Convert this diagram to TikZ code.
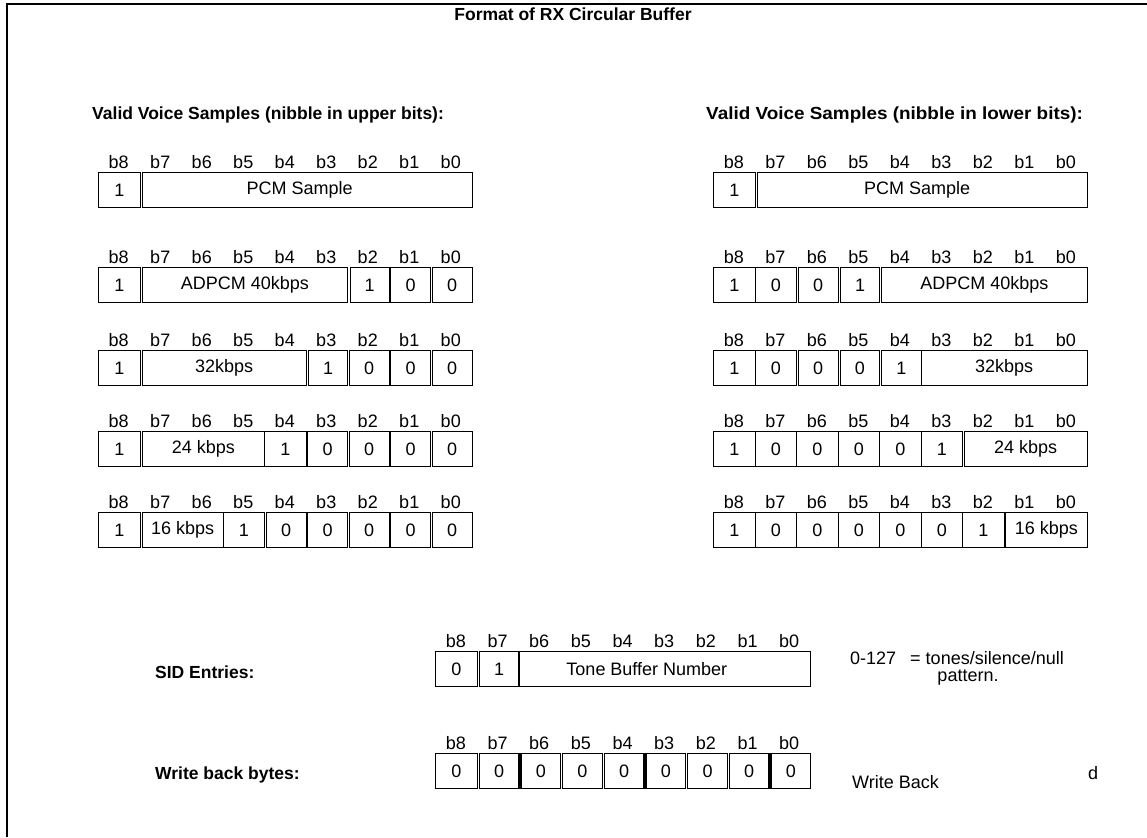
\documentclass[tikz,border=0pt]{standalone}
\usepackage{fontspec}
\usepackage{graphicx}
\setmainfont{Liberation Sans}
\newcommand{\regrow}[5]{% #1 prefix, #2 x0, #3 cell width, #4 top y, #5 fields s/e/g/t
  \foreach \s/\e/\g/\t [count=\i] in {#5} {%
    \pgfmathsetmacro\fldw{(\e-\s)*#3-\g}%
    \pgfmathsetmacro\fldx{#2+\s*#3+\g}%
    \node[cell, minimum width=\fldw pt] (#1-\i) at (\fldx, #4) {\t};
  }%
  \foreach \b [count=\k from 0] in {b8,b7,b6,b5,b4,b3,b2,b1,b0} {%
    \pgfmathsetmacro\lblx{#2+(\k+0.5)*#3}%
    \node[bitlbl] (#1-\b) at (\lblx, #4-3) {\b};
  }%
}
\begin{document}
\begin{tikzpicture}[x=1pt,y=-1pt,
  cell/.style={draw, line width=1.3pt, minimum height=35pt, inner sep=0pt,
    anchor=north west, font=\fontsize{18}{20}\selectfont},
  bitlbl/.style={inner sep=0pt, anchor=south, font=\fontsize{18}{20}\selectfont},
  head/.style={inner sep=0pt, anchor=west, font=\bfseries\fontsize{17.5}{20}\selectfont},
  note/.style={inner sep=0pt, anchor=west, font=\fontsize{18}{20}\selectfont},
  frame/.style={line width=2pt}]
\useasboundingbox (0,0) rectangle (1147,837);
\coordinate (fbl) at (7,837);
\coordinate (ftl) at (7,4);
\coordinate (ftr) at (1147,4);
\draw[frame] (fbl) -- (ftl) -- (ftr);
\node[inner sep=0pt, font=\bfseries\fontsize{17.5}{20}\selectfont] (title) at (573,14) {Format of RX Circular Buffer};
\node[head] (hl) at (92,115) {Valid Voice Samples (nibble in upper bits):};
\node[head] (hr) at (706,115) {\scalebox{1.08}[1]{Valid Voice Samples (nibble in lower bits):}};
% left registers
\regrow{La}{98}{41.5}{172}{0/1/0/1, 1/9/2/PCM Sample\hspace*{15pt}}
\regrow{Lb}{98}{41.5}{267}{0/1/0/1, 1/6/2/ADPCM 40kbps, 6/7/2.5/1, 7/8/1.5/0, 8/9/1.5/0}
\regrow{Lc}{98}{41.5}{350}{0/1/0/1, 1/5/2/32kbps, 5/6/2.5/1, 6/7/1.5/0, 7/8/1.5/0, 8/9/1.5/0}
\regrow{Ld}{98}{41.5}{431}{0/1/0/1, 1/4/2/24 kbps, 4/5/0/1, 5/6/1.5/0, 6/7/1.5/0, 7/8/1.5/0, 8/9/1.5/0}
\regrow{Le}{98}{41.5}{512}{0/1/0/1, 1/3/2/16 kbps, 3/4/0/1, 4/5/1.5/0, 5/6/1.5/0, 6/7/1.5/0, 7/8/1.5/0, 8/9/1.5/0}
% right registers
\regrow{Ra}{713}{41.5}{172}{0/1/0/1, 1/9/2/PCM Sample\hspace*{10pt}}
\regrow{Rb}{713}{41.5}{267}{0/1/0/1, 1/2/0/0, 2/3/1.5/0, 3/4/2.5/1, 4/9/2/ADPCM 40kbps}
\regrow{Rc}{713}{41.5}{350}{0/1/0/1, 1/2/0/0, 2/3/1.5/0, 3/4/2/0, 4/5/2/1, 5/9/0/32kbps}
\regrow{Rd}{713}{41.5}{431}{0/1/0/1, 1/2/0/0, 2/3/0/0, 3/4/0/0, 4/5/0/0, 5/6/0/1, 6/9/1.5/24 kbps}
\regrow{Re}{713}{41.5}{512}{0/1/0/1, 1/2/0/0, 2/3/0/0, 3/4/0/0, 4/5/0/0, 5/6/0/0, 6/7/0/1, 7/9/1.5/16 kbps}
% SID entries
\node[head] (sid) at (155,672) {SID Entries:};
\regrow{S}{435}{41.67}{651}{0/1/0/0, 1/2/2/1, 2/9/0/Tone Buffer Number\hspace*{36pt}}
\node[note] (sidn) at (850,658) {0-127\hspace{14pt}= tones/silence/null};
\node[inner sep=0pt, font=\fontsize{18}{20}\selectfont] (sidp) at (968,678) {pattern.};
% write back
\node[head] (wb) at (155,775) {Write back bytes:};
\regrow{W}{435}{41.67}{753}{0/1/0/0, 1/2/2/0, 2/3/2/0, 3/4/2/0, 4/5/2/0, 5/6/2/0, 6/7/2/0, 7/8/2/0, 8/9/2/0}
\node[note] (wbn) at (852,782) {Write Back};
\node[inner sep=0pt, font=\fontsize{18}{20}\selectfont] (dd) at (1093,773) {d};
\end{tikzpicture}
\end{document}
